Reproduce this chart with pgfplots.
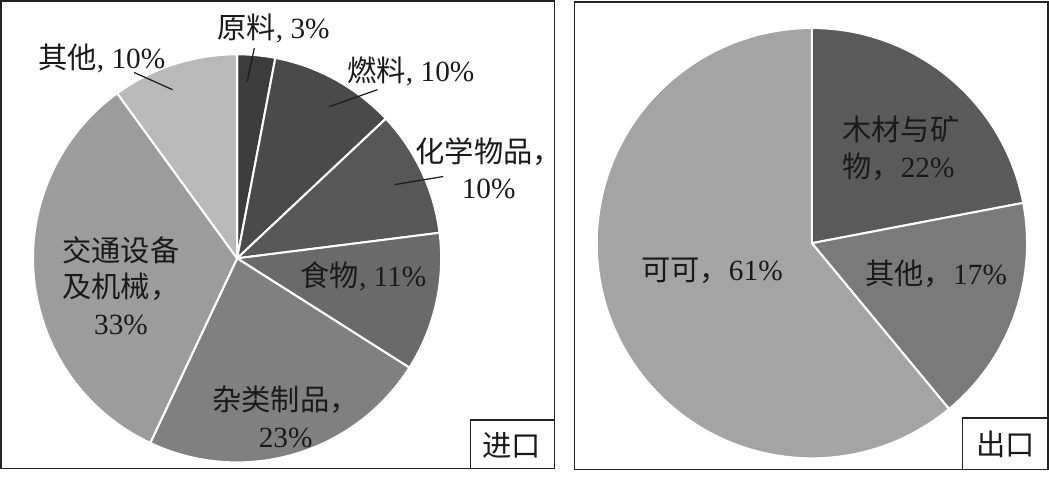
\documentclass[border=0pt]{standalone}
\usepackage{pgfplots}
\pgfplotsset{compat=1.18}
\usepackage{fontspec}
\setmainfont{Liberation Serif}
\newfontfamily\cjk{Noto Sans CJK SC}
\newcommand\zh[1]{{\cjk #1}}
\definecolor{a1}{HTML}{3C3C3C}
\definecolor{a2}{HTML}{4A4A4A}
\definecolor{a3}{HTML}{575757}
\definecolor{a4}{HTML}{6A6A6A}
\definecolor{a5}{HTML}{808080}
\definecolor{a6}{HTML}{9C9C9C}
\definecolor{a7}{HTML}{B9B9B9}
\definecolor{b1}{HTML}{5A5A5A}
\definecolor{b2}{HTML}{7A7A7A}
\definecolor{b3}{HTML}{A4A4A4}
\definecolor{txt}{HTML}{1A1A1A}
\definecolor{frame}{HTML}{222222}
% import shares (%), clockwise from 12 o'clock
\def\importdata{3/a1,10/a2,10/a3,11/a4,23/a5,33/a6,10/a7}
% export shares (%), clockwise from 12 o'clock
\def\exportdata{22/b1,17/b2,61/b3}
\newcommand\pie[4]{% cx, cy, r, data
  \gdef\ang{90}%
  \foreach \p/\c in #4{%
    \pgfmathsetmacro\e{\ang-3.6*\p}%
    \edef\tmp{\noexpand\fill[\c,draw=white,line width=2pt,line join=round]
      (axis cs:#1,#2) -- ++(\ang:#3pt) arc[start angle=\ang,end angle=\e,radius=#3pt] -- cycle;}%
    \tmp
    \global\let\ang\e
  }%
}
\begin{document}
\begin{tikzpicture}
\begin{axis}[width=1049pt,height=475pt,scale only axis,
  xmin=0,xmax=1049,ymin=0,ymax=475,y dir=reverse,hide axis,clip=false]
\pie{239}{260}{202}{\importdata}
\pie{808}{245}{213}{\exportdata}
% frames
\draw[frame,line width=1.5pt] (axis cs:5,5) rectangle (axis cs:553,468);
\draw[frame,line width=1.5pt] (axis cs:470,420) rectangle (axis cs:553,468);
\draw[frame,line width=1.5pt] (axis cs:573,6) rectangle (axis cs:1042,469);
\draw[frame,line width=1.5pt] (axis cs:957,418) rectangle (axis cs:1042,469);
% leader lines
\draw[txt,line width=1.2pt] (axis cs:256,52) -- (axis cs:249,85);
\draw[txt,line width=1.2pt] (axis cs:137,76) -- (axis cs:175,93);
\draw[txt,line width=1.2pt] (axis cs:378,93) -- (axis cs:330,110);
\draw[txt,line width=1.2pt] (axis cs:443,179) -- (axis cs:395,187);
\tikzset{lab/.style={text=txt,inner sep=0pt,font=\fontsize{29}{36}\selectfont,align=center}}
\node[lab] at (axis cs:275,32) {\zh{原料}, 3\%};
\node[lab] at (axis cs:105,62) {\zh{其他}, 10\%};
\node[lab] at (axis cs:411,75) {\zh{燃料}, 10\%};
\node[lab] at (axis cs:488,171) {\zh{化学物品，}\\10\%};
\node[lab] at (axis cs:364,278) {\zh{食物}, 11\%};
\node[lab] at (axis cs:287,417) {\zh{杂类制品，}\\23\%};
\node[lab] at (axis cs:124,287) {\zh{交通设备}\\\zh{及机械，}\\33\%};
\node[lab,align=left] at (axis cs:896,151) {\zh{木材与矿}\\\zh{物，}22\%};
\node[lab] at (axis cs:709,272) {\zh{可可，}61\%};
\node[lab] at (axis cs:931,275) {\zh{其他，}17\%};
\node[lab] at (axis cs:511,445) {\zh{进口}};
\node[lab] at (axis cs:1000,444) {\zh{出口}};
\end{axis}
\end{tikzpicture}
\end{document}
